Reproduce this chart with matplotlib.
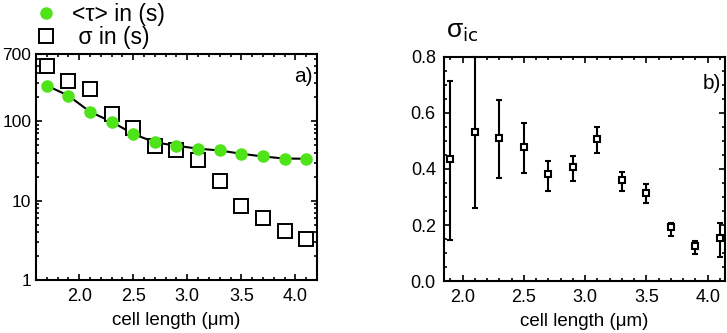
import matplotlib
matplotlib.use("Agg")
import matplotlib.pyplot as plt
import numpy as np
from matplotlib.ticker import MultipleLocator, LogLocator, NullFormatter

plt.rcParams['font.family'] = ['Liberation Sans', 'DejaVu Sans']

# ---- data ----
cell_length = [1.7, 1.9, 2.1, 2.3, 2.5, 2.7, 2.9, 3.1, 3.3, 3.5, 3.7, 3.9, 4.1]
tau_mean = [280, 209, 131, 98, 69, 54, 49, 45, 42.7, 38.8, 35.9, 33.8, 33.6]
sigma = [500, 323, 250, 124, 83, 48, 43.6, 32, 17.4, 8.6, 6.0, 4.2, 3.3]

cell_length_b = [1.9, 2.1, 2.3, 2.5, 2.7, 2.9, 3.1, 3.3, 3.5, 3.7, 3.9, 4.1]
sigma_ic = [0.436, 0.533, 0.510, 0.479, 0.381, 0.408, 0.508, 0.361, 0.315, 0.192, 0.126, 0.152]
sigma_ic_hi = [0.715, 0.800, 0.646, 0.563, 0.430, 0.448, 0.550, 0.388, 0.345, 0.208, 0.143, 0.208]
sigma_ic_lo = [0.146, 0.262, 0.367, 0.385, 0.321, 0.358, 0.456, 0.323, 0.277, 0.162, 0.096, 0.087]

log_ticks = [1, 10, 100, 700]
log_tick_labels = ['1', '10', '100', '700']
lin_ticks = [0.0, 0.2, 0.4, 0.6, 0.8]
x_ticks = [2.0, 2.5, 3.0, 3.5, 4.0]

green = '#4fe31a'

fig = plt.figure(figsize=(7.27, 3.33), dpi=100)
axa = fig.add_axes([0.0495, 0.159, 0.3865, 0.679])
axb = fig.add_axes([0.611, 0.156, 0.386, 0.673])

# ---- panel a ----
axa.plot(cell_length, tau_mean, color='black', lw=1.5, zorder=2)
axa.plot(cell_length, sigma, linestyle='none', marker='s', markersize=10,
         markerfacecolor='white', markeredgecolor='black', markeredgewidth=1.4,
         label=' \u03c3 in (s)', zorder=3)
axa.plot(cell_length, tau_mean, linestyle='none', marker='o', markersize=8,
         color=green, label='<\u03c4> in (s)', zorder=4)
axa.set_yscale('log')
axa.set_xlim(1.6, 4.2)
axa.set_ylim(1, 700)
axa.set_yticks(log_ticks)
axa.set_yticklabels(log_tick_labels)
axa.yaxis.set_minor_locator(LogLocator(base=10, subs=np.arange(2, 10)))
axa.yaxis.set_minor_formatter(NullFormatter())
axa.set_xticks(x_ticks)
axa.set_xticklabels(['%.1f' % t for t in x_ticks])
axa.xaxis.set_minor_locator(MultipleLocator(0.1))
axa.set_xlabel('cell length (\u03bcm)', fontsize=13.5, labelpad=5)
axa.text(0.985, 0.90, 'a)', transform=axa.transAxes, ha='right', va='center', fontsize=15)
h, l = axa.get_legend_handles_labels()
axa.legend([h[1], h[0]], [l[1], l[0]], loc='lower left', bbox_to_anchor=(-0.01, 1.02),
           frameon=False, fontsize=16.5, handletextpad=0.6, labelspacing=0.0,
           borderaxespad=0, borderpad=0.0, handlelength=1.1)

# ---- panel b ----
yerr = [np.array(sigma_ic) - np.array(sigma_ic_lo), np.array(sigma_ic_hi) - np.array(sigma_ic)]
axb.errorbar(cell_length_b, sigma_ic, yerr=yerr, fmt='s', markersize=5,
             markerfacecolor='white', markeredgecolor='black', markeredgewidth=1.5,
             ecolor='black', elinewidth=1.5, capsize=2.5, capthick=1.5, clip_on=False)
axb.set_xlim(1.85, 4.14)
axb.set_ylim(0, 0.8)
axb.set_yticks(lin_ticks)
axb.set_yticklabels(['%.1f' % t for t in lin_ticks])
axb.yaxis.set_minor_locator(MultipleLocator(0.05))
axb.set_xticks(x_ticks)
axb.set_xticklabels(['%.1f' % t for t in x_ticks])
axb.xaxis.set_minor_locator(MultipleLocator(0.1))
axb.set_xlabel('cell length (\u03bcm)', fontsize=13.5, labelpad=5)
axb.text(0.985, 0.88, 'b)', transform=axb.transAxes, ha='right', va='center', fontsize=15)
axb.text(0.005, 1.11, '\u03c3$_{\\mathrm{ic}}$', transform=axb.transAxes, ha='left',
         va='center', fontsize=19)

for ax in (axa, axb):
    for s in ax.spines.values():
        s.set_linewidth(1.5)
    ax.tick_params(which='both', direction='in', top=True, right=True, labelsize=13,
                   width=1.2)
    ax.tick_params(which='major', length=4, pad=6)
    ax.tick_params(which='minor', length=2.5)
axa.tick_params(axis='y', which='major', labelsize=12.5, pad=3.5)

fig.savefig('out.png', dpi=100)
